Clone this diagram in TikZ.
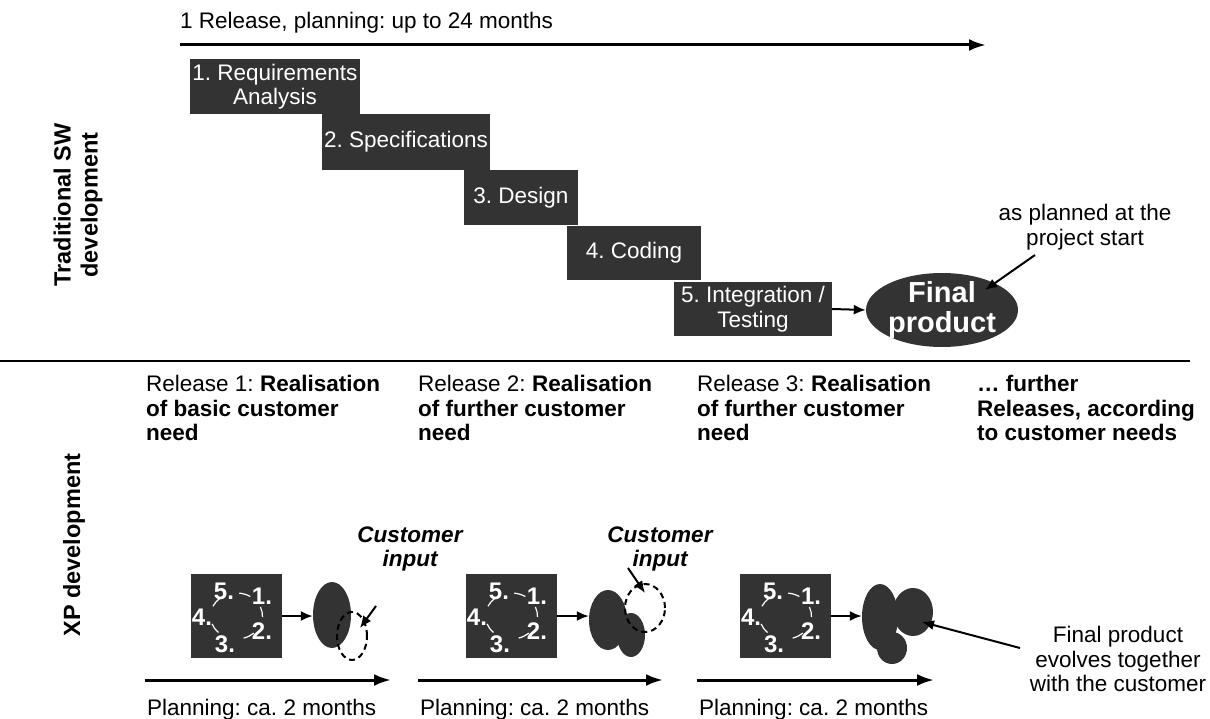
\documentclass[tikz,border=0pt]{standalone}
\usepackage{fontspec}
\setmainfont{Liberation Sans}
\usetikzlibrary{shapes.geometric,arrows.meta}
\definecolor{boxgray}{RGB}{51,51,51}
\frenchspacing

\tikzset{
  txt/.style={font=\fontsize{22.5}{24.5}\selectfont, inner sep=0pt},
  side/.style={font=\bfseries\fontsize{23.5}{27}\selectfont, inner sep=0pt, rotate=90, align=center},
  phase/.style={txt, fill=boxgray, text=white, align=center},
  blob/.style={ellipse, fill=boxgray, inner sep=0pt},
  newinput/.style={ellipse, draw, dash pattern=on 6pt off 4pt, line width=2pt, inner sep=0pt},
  cycnum/.style={font=\bfseries\fontsize{24}{24}\selectfont, text=white, inner sep=0pt},
  arr/.style={>={Latex[length=12pt,width=10pt]}, ->, line width=2pt},
  bigarr/.style={>={Latex[length=17pt,width=12pt]}, ->, line width=3pt},
}

\begin{document}
\begin{tikzpicture}[x=1pt, y=1pt]
\useasboundingbox (0,0) rectangle (1210,-719);

% waterfall part
\node[txt, anchor=base west] (reltxt) at (180,-29) {1 Release, planning: up to 24 months};
\coordinate (rels) at (180,-45);
\coordinate (rele) at (986,-45);
\draw[bigarr] (rels) -- (rele);

\node[phase, minimum width=170pt, minimum height=55pt] (req) at (275,-86.5) {1. Requirements\\Analysis};
\node[phase, minimum width=168pt, minimum height=56pt] (spec) at (406,-142) {2. Specifications};
\node[phase, minimum width=114pt, minimum height=55pt] (design) at (521,-198) {3. Design};
\node[phase, minimum width=134pt, minimum height=54pt] (coding) at (634,-253) {4. Coding};
\node[phase, minimum width=158pt, minimum height=54pt] (integ) at (753,-309) {5. Integration /\\Testing};

\node[blob, minimum width=152pt, minimum height=74pt] (final) at (942,-310) {};
\node[font=\bfseries\fontsize{29}{30}\selectfont, text=white, align=center, inner sep=0pt] (finaltxt) at (final.center) {Final\\product};
\draw[arr] (integ.east) -- (final.west);

\node[txt, align=center] (asplanned) at (1085,-227) {as planned at the\\project start};
\coordinate (plantail) at (1035,-255);
\coordinate (plantip) at (985,-290);
\draw[arr] (plantail) -- (plantip);

\node[side] (tradlbl) at (78,-205) {Traditional SW\\development};

\coordinate (divl) at (0,-361);
\coordinate (divr) at (1190,-361);
\draw[line width=1.2pt] (divl) -- (divr);

% XP part
\node[side] (xplbl) at (74,-545) {XP development};

\node[txt, align=left, anchor=north west] (rel1) at (146,-375) {Release 1: \textbf{Realisation}\\\textbf{of basic customer}\\\textbf{need}};
\node[txt, align=left, anchor=north west] (rel2) at (418,-375) {Release 2: \textbf{Realisation}\\\textbf{of further customer}\\\textbf{need}};
\node[txt, align=left, anchor=north west] (rel3) at (697,-375) {Release 3: \textbf{Realisation}\\\textbf{of further customer}\\\textbf{need}};
\node[txt, align=left, anchor=north west] (rel4) at (977,-375) {\textbf{\dots{} further}\\\textbf{Releases, according}\\\textbf{to customer needs}};

\node[txt, font=\bfseries\itshape\fontsize{22.5}{24.5}\selectfont, align=center] (cust1) at (410,-549) {Customer\\input};
\node[txt, font=\bfseries\itshape\fontsize{22.5}{24.5}\selectfont, align=center] (cust2) at (660,-549) {Customer\\input};

% iteration boxes with the 5 phases in a loop
\foreach \i/\x in {1/236.5, 2/511.5, 3/785.5} {
  \node[fill=boxgray, minimum width=91pt, minimum height=84pt, inner sep=0pt] (cyc\i) at (\x,-616) {};
  \foreach \k/\dx/\dy in {1/25.5/20, 2/25.5/-15, 3/-11.5/-28, 4/-34.5/-1, 5/-12.5/25}
    \node[cycnum] (cyc\i-\k) at ([shift={(\dx,\dy)}]cyc\i.center) {\k.};
  \foreach \a in {142, 71, 10, -61, -147}
    \draw[white, line width=1.2pt] ([shift={({\a-13}:26 and 23)}]cyc\i.center) arc[start angle=\a-13, delta angle=26, x radius=26, y radius=23];
}

% product after each release
\node[blob, minimum width=38pt, minimum height=66pt] (prod1) at (332,-615) {};
\node[newinput, minimum width=30pt, minimum height=48pt] (inp1) at (352,-636) {};

\node[blob, minimum width=38pt, minimum height=60pt] (prod2a) at (608,-620) {};
\node[blob, minimum width=28pt, minimum height=44pt] (prod2b) at (631,-635) {};
\node[newinput, minimum width=40pt, minimum height=48pt] (inp2) at (645,-608) {};

\node[blob, minimum width=36pt, minimum height=66pt] (prod3a) at (880,-617) {};
\node[blob, minimum width=40pt, minimum height=48pt] (prod3b) at (913,-612) {};
\node[blob, minimum width=30pt, minimum height=32pt] (prod3c) at (892,-648) {};

\draw[arr] (cyc1.east) -- (cyc1.east -| prod1.west);
\draw[arr] (cyc2.east) -- (cyc2.east -| prod2a.west);
\draw[arr] (cyc3.east) -- (cyc3.east -| prod3a.west);

\coordinate (inp1tail) at (376,-606);
\coordinate (inp1tip) at (360,-628);
\draw[arr] (inp1tail) -- (inp1tip);
\coordinate (inp2tail) at (628,-568);
\coordinate (inp2tip) at (645,-593);
\draw[arr] (inp2tail) -- (inp2tip);

\node[txt, align=center] (evolve) at (1118,-659) {Final product\\evolves together\\with the customer};
\coordinate (evtail) at (1020,-648);
\coordinate (evtip) at (922,-622);
\draw[arr] (evtail) -- (evtip);

% planning periods
\foreach \i/\s/\e in {1/145/391, 2/418/663, 3/697/934} {
  \coordinate (pl\i s) at (\s,-680);
  \coordinate (pl\i e) at (\e,-680);
  \draw[bigarr] (pl\i s) -- (pl\i e);
  \node[txt, anchor=base west] (pltxt\i) at (\s+2,-715) {Planning: ca. 2 months};
}
\end{tikzpicture}
\end{document}
